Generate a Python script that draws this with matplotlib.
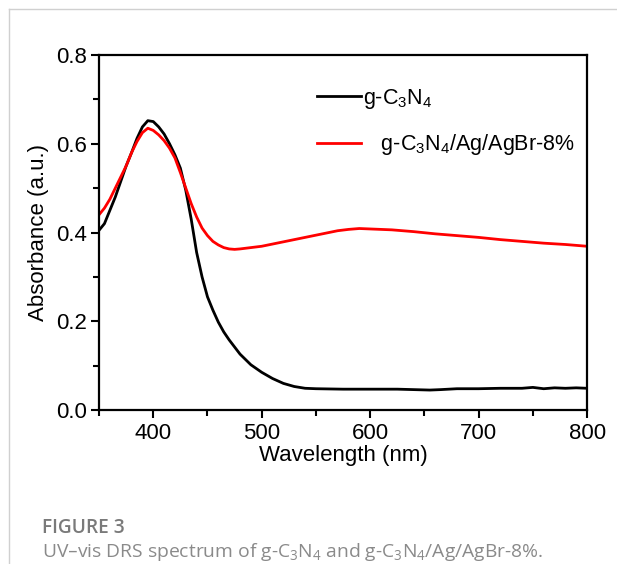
import matplotlib
matplotlib.use("Agg")
import matplotlib.pyplot as plt
from matplotlib.lines import Line2D
from matplotlib.ticker import MultipleLocator

plt.rcParams['font.family'] = ['Liberation Sans', 'DejaVu Sans']
plt.rcParams['mathtext.default'] = 'regular'

# g-C3N4
wl_cn = [350, 355, 360, 365, 370, 375, 380, 385, 390, 395, 400, 405, 410, 415,
         420, 425, 430, 435, 440, 445, 450, 455, 460, 465, 470, 475, 480, 490,
         500, 510, 520, 530, 540, 550, 575, 600, 625, 640, 655, 665, 680, 700,
         720, 740, 750, 760, 770, 780, 790, 800]
abs_cn = [0.405, 0.42, 0.45, 0.48, 0.515, 0.55, 0.58, 0.612, 0.638, 0.652, 0.650,
          0.638, 0.622, 0.600, 0.575, 0.545, 0.495, 0.430, 0.355, 0.300, 0.255,
          0.225, 0.198, 0.176, 0.158, 0.142, 0.126, 0.102, 0.085, 0.071, 0.060,
          0.053, 0.049, 0.048, 0.047, 0.047, 0.047, 0.046, 0.045, 0.046, 0.048,
          0.048, 0.049, 0.049, 0.051, 0.048, 0.050, 0.049, 0.050, 0.049]

# g-C3N4/Ag/AgBr-8%
wl_comp = [350, 355, 360, 365, 370, 375, 380, 385, 390, 395, 400, 405, 410, 415,
           420, 425, 430, 435, 440, 445, 450, 455, 460, 465, 470, 475, 480, 490,
           500, 510, 520, 530, 540, 550, 560, 570, 580, 590, 600, 620, 640, 660,
           680, 700, 720, 740, 760, 780, 800]
abs_comp = [0.44, 0.455, 0.475, 0.50, 0.525, 0.55, 0.58, 0.605, 0.625, 0.635,
            0.630, 0.620, 0.607, 0.590, 0.568, 0.535, 0.500, 0.465, 0.435, 0.410,
            0.393, 0.380, 0.372, 0.366, 0.363, 0.362, 0.363, 0.366, 0.369, 0.374,
            0.379, 0.384, 0.389, 0.394, 0.399, 0.404, 0.407, 0.409, 0.408, 0.406,
            0.402, 0.397, 0.393, 0.389, 0.384, 0.380, 0.376, 0.373, 0.369]

fig = plt.figure(figsize=(6.17, 5.64), dpi=100)
ax = fig.add_axes([0.1605, 0.273, 0.791, 0.6295])

ax.plot(wl_cn, abs_cn, color='black', lw=2.0, label='g-C$_3$N$_4$')
ax.plot(wl_comp, abs_comp, color='#ff0000', lw=2.0, label='   g-C$_3$N$_4$/Ag/AgBr-8%')

ax.set_xlim(350, 800)
ax.set_ylim(0, 0.8)
ax.xaxis.set_major_locator(MultipleLocator(100))
ax.xaxis.set_minor_locator(MultipleLocator(50))
ax.yaxis.set_major_locator(MultipleLocator(0.2))
ax.yaxis.set_minor_locator(MultipleLocator(0.1))
ax.yaxis.set_major_formatter(plt.FormatStrFormatter('%.1f'))
ax.tick_params(which='major', direction='out', length=6, width=1.5, labelsize=16, pad=3)
ax.tick_params(which='minor', direction='out', length=4, width=1.5)
for s in ax.spines.values():
    s.set_linewidth(1.6)

ax.set_xlabel('Wavelength (nm)', fontsize=16, labelpad=1)
ax.set_ylabel('Absorbance (a.u.)', fontsize=16, labelpad=5)

ax.legend(loc='upper left', bbox_to_anchor=(0.43, 0.935), frameon=False,
          fontsize=15.5, handlelength=2.0, handletextpad=0.1, labelspacing=1.0,
          borderaxespad=0)

# frame lines of the figure panel
fig.add_artist(Line2D([9 / 617, 1], [1 - 9 / 564, 1 - 9 / 564], color='#d0d0d0', lw=1))
fig.add_artist(Line2D([9 / 617, 9 / 617], [0, 1 - 9 / 564], color='#d0d0d0', lw=1))

fig.text(42 / 617, 1 - 528 / 564, 'FIGURE 3', fontsize=13.8, color='#7a7a7a',
         family=['Open Sans', 'DejaVu Sans'], weight='semibold', va='center')
fig.text(42 / 617, 1 - 552 / 564,
         'UV\u2013vis DRS spectrum of g-C$_3$N$_4$ and g-C$_3$N$_4$/Ag/AgBr-8%.',
         fontsize=13.9, color='#8a8a8a', family=['Open Sans', 'DejaVu Sans'], va='center')

fig.savefig('out.png', dpi=100)
